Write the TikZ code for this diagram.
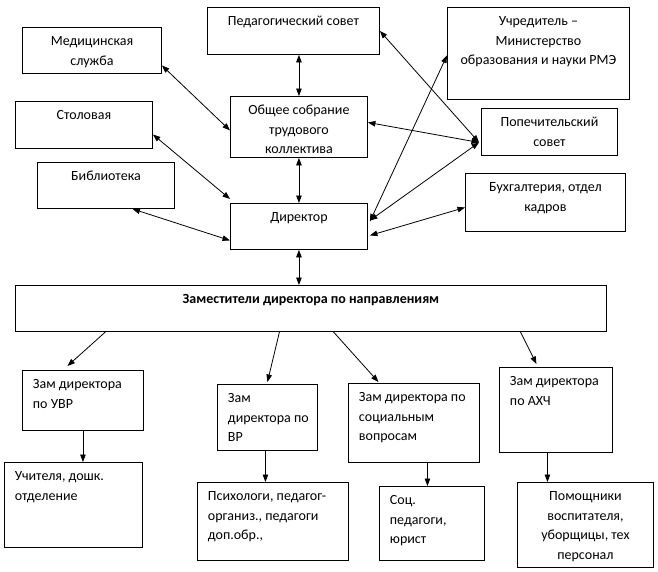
\documentclass[tikz,border=0pt]{standalone}
\usepackage{fontspec}
\setmainfont{Carlito}
\usetikzlibrary{arrows.meta,calc}
\newcommand{\cbox}[3]{\parbox[c][#2][t]{#1}{\centering\rule{0pt}{18.5pt}#3}}
\newcommand{\lbox}[3]{\parbox[c][#2][t]{#1}{\raggedright\leftskip=10.5pt\rule{0pt}{18.5pt}#3}}
\tikzset{
  box/.style={draw, line width=0.9pt, inner sep=0pt, anchor=north west},
  link/.style={line width=0.8pt, {Triangle[length=7.5pt,width=5.5pt]}-{Triangle[length=7.5pt,width=5.5pt]}},
  down/.style={line width=0.8pt, -{Triangle[length=7.5pt,width=5.5pt]}}
}
\begin{document}
\begin{tikzpicture}[x=1pt,y=-1pt,font=\fontsize{14}{19.5}\selectfont]
\useasboundingbox (0,0) rectangle (658,571);
% top area
\node[box] (ped) at (207,7) {\cbox{172pt}{47pt}{Педагогический совет}};
\node[box] (med) at (22,27) {\cbox{139pt}{46pt}{Медицинская\\служба}};
\node[box] (stol) at (15,101) {\cbox{137pt}{47pt}{Столовая}};
\node[box] (bib) at (37,162) {\cbox{137pt}{46pt}{Библиотека}};
\node[box] (obsh) at (230,96) {\cbox{137pt}{61pt}{Общее собрание\\трудового\\коллектива}};
\node[box] (uchr) at (447,7) {\cbox{182pt}{92pt}{Учредитель –\\Министерство\\образования и науки РМЭ}};
\node[box] (pop) at (481,108) {\cbox{136pt}{47pt}{Попечительский\\совет}};
\node[box] (buh) at (465,173) {\cbox{160pt}{58pt}{Бухгалтерия, отдел\\кадров}};
\node[box] (dir) at (230,203) {\cbox{137pt}{46pt}{Директор}};
\node[box] (zams) at (15,285) {\cbox{591pt}{46pt}{\bfseries Заместители директора по направлениям}};
% deputies
\node[box] (uvr) at (22,370) {\lbox{121pt}{60pt}{Зам директора\\по УВР}};
\node[box] (vr) at (217,384) {\lbox{100pt}{66pt}{Зам\\директора по\\ВР}};
\node[box] (soc) at (348,383) {\lbox{131pt}{79pt}{Зам директора по\\социальным\\вопросам}};
\node[box] (ahch) at (499,367) {\lbox{113pt}{85pt}{Зам директора\\по АХЧ}};
% staff
\node[box] (uch) at (4,462) {\lbox{138pt}{85pt}{Учителя, дошк.\\отделение}};
\node[box] (psy) at (197,482) {\lbox{151pt}{78pt}{Психологи, педагог-\\организ., педагоги\\доп.обр.,}};
\node[box] (socped) at (379,486) {\lbox{105pt}{74pt}{Соц.\\педагоги,\\юрист}};
\node[box] (pom) at (517,482) {\cbox{136pt}{85pt}{Помощники\\воспитателя,\\уборщицы, тех\\персонал}};
% links
\draw[link] (obsh.north |- ped.south) -- (obsh.north);
\draw[link] (obsh.south) -- (dir.north);
\draw[link] (dir.south) -- (dir.south |- zams.north);
\draw[link] ([yshift=-15pt]med.east) -- ([yshift=-3.5pt]obsh.west);
\draw[link] ([yshift=-9.5pt]stol.east) -- ([yshift=4pt]dir.north west);
\draw[link] ([xshift=26.5pt]bib.south) -- ([yshift=-14pt]dir.west);
\draw[link] (ped.east) -- ([xshift=-2pt,yshift=-10.5pt]pop.west);
\draw[link] ([yshift=4.5pt]obsh.east) -- ([xshift=-2pt,yshift=-10.5pt]pop.west);
\draw[link] ([xshift=2pt,yshift=6pt]dir.east) -- ([xshift=-2pt,yshift=-10.5pt]pop.west);
\draw[link] ([xshift=2pt,yshift=5pt]dir.east) -- ([yshift=-2pt]uchr.west);
\draw[link] ([xshift=2pt,yshift=-9pt]dir.east) -- ([yshift=-5pt]buh.west);
% down arrows
\draw[down] ([xshift=-205.5pt]zams.south) -- ([xshift=-15.5pt,yshift=4pt]uvr.north);
\draw[down] ([xshift=-31.5pt]zams.south) -- ([yshift=2pt]vr.north);
\draw[down] ([xshift=22.5pt]zams.south) -- ([xshift=-35.5pt,yshift=1pt]soc.north);
\draw[down] ([xshift=209.5pt]zams.south) -- ([xshift=-19.5pt,yshift=3pt]ahch.north);
\draw[down] (uvr.south) -- (uvr.south |- uch.north);
\draw[down] ([xshift=-2pt]vr.south) -- ([xshift=-2pt]vr.south |- psy.north);
\draw[down] ([xshift=13.5pt]soc.south) -- ([xshift=13.5pt]soc.south |- socped.north);
\draw[down] ([xshift=-8.5pt]ahch.south) -- ([xshift=-8.5pt]ahch.south |- pom.north);
\end{tikzpicture}
\end{document}
